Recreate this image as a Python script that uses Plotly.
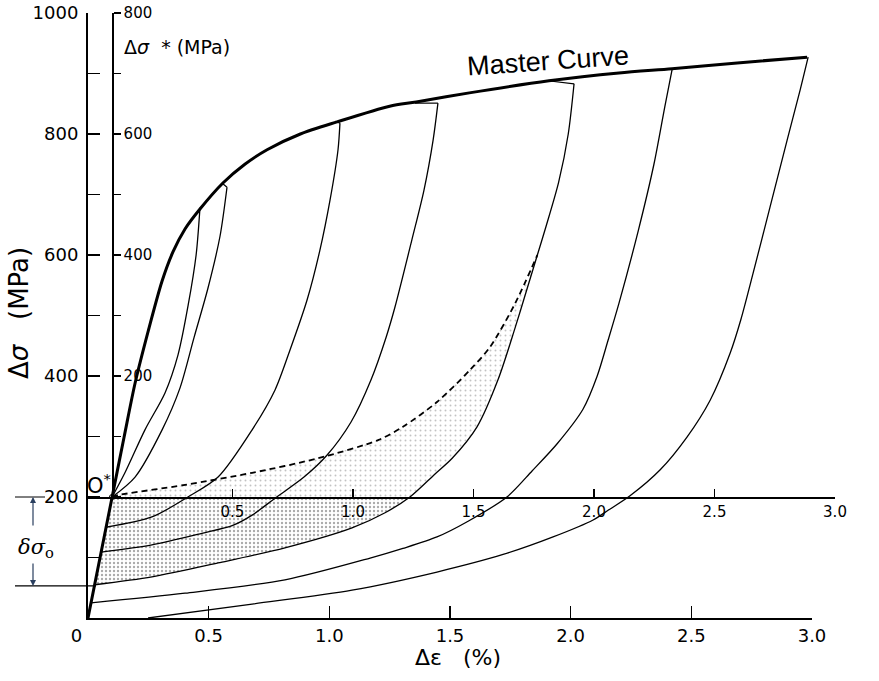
import plotly.graph_objects as go

# ---------------- data (Δε in %, Δσ in MPa) ----------------
master_eps = [0.0, 0.10, 0.15, 0.195, 0.25, 0.307, 0.352, 0.402, 0.464, 0.559, 0.65, 0.742, 0.88,
              1.032, 1.25, 1.36, 1.58, 1.91, 2.20, 2.42, 2.69, 2.98]
master_sig = [0, 200, 300, 388, 475, 557, 605, 643, 676, 719, 750, 774, 800,
              820, 846, 853, 868, 888, 901, 908, 917.5, 927]

a_eps = [0.464, 0.448, 0.415, 0.373, 0.319, 0.236, 0.153, 0.10]
a_sig = [678, 600, 517, 435, 372, 311, 240, 200]

b_eps = [0.576, 0.547, 0.497, 0.439, 0.381, 0.307, 0.195, 0.10]
b_sig = [712, 631, 545, 463, 380, 311, 233, 200]

c_eps = [1.044, 1.036, 1.003, 0.961, 0.908, 0.837, 0.775, 0.680, 0.539, 0.414, 0.265, 0.075]
c_sig = [818, 774, 691, 608, 526, 443, 377, 311, 233, 200, 167, 150]

d_eps = [1.450, 1.430, 1.392, 1.342, 1.272, 1.236, 1.172, 1.090, 0.99, 0.895, 0.775, 0.68, 0.60,
         0.472, 0.265, 0.055]
d_sig = [851, 790, 707, 625, 514, 465, 393, 324, 269, 233, 198, 170, 153, 140, 121, 109]

e_eps = [2.014, 1.99, 1.95, 1.90, 1.862, 1.82, 1.77, 1.70, 1.612, 1.509, 1.438, 1.334,
         1.231, 1.094, 0.816, 0.539, 0.265, 0.028]
e_sig = [883, 800, 720, 650, 600, 545, 480, 395, 316, 264, 238, 200, 174, 149, 116, 91, 68, 55]

f_eps = [2.420, 2.39, 2.345, 2.28, 2.20, 2.155, 2.11, 2.051, 1.944, 1.84, 1.736, 1.575, 1.446,
         1.305, 1.169, 0.816, 0.402, 0.0125]
f_sig = [906, 845, 750, 640, 520, 459, 400, 345, 288, 243, 200, 160, 134, 115, 99, 63, 41, 25]

g_eps = [2.984, 2.951, 2.897, 2.826, 2.756, 2.705, 2.661, 2.578, 2.482, 2.371, 2.246, 2.155, 2.093,
         1.927, 1.72, 1.446, 1.094, 0.680, 0.249]
g_sig = [927, 873, 790, 679, 570, 493, 438, 360, 299, 245, 202, 178, 162, 134, 105, 76, 46, 23, 0]

# short links from the master curve to the loop tips
hook_eps = [[0.555, 0.576], [1.024, 1.044], [1.355, 1.450], [1.906, 2.014]]
hook_sig = [[719, 712], [821, 818], [851, 851], [888, 883]]

dash_eps = [0.10, 0.124, 0.402, 0.680, 0.953, 1.202, 1.305, 1.446, 1.583, 1.666, 1.77, 1.862]
dash_sig = [200, 203, 220, 240, 264, 294, 316, 357, 410, 448, 520, 600]

x_ticks = [0, 0.5, 1.0, 1.5, 2.0, 2.5, 3.0]
x_text = ["0\u00a0\u00a0\u00a0\u00a0", "0.5", "1.0", "1.5", "2.0", "2.5", "3.0"]
y_ticks = [0, 100, 200, 300, 400, 500, 600, 700, 800, 900, 1000]
y_text = ["", "", "200", "", "400", "", "600", "", "800", "", "1000"]
ys_ticks = [0, 100, 200, 300, 400, 500, 600, 700, 800]
ys_text = ["", "", "200", "", "400", "", "600", "", "800"]
xs_ticks = [0.5, 1.0, 1.5, 2.0, 2.5, 3.0]
xs_text = ["0.5", "1.0", "1.5", "2.0", "2.5", "3.0"]

# ---------------- figure ----------------
W, H = 879, 681
ML, MR, MT, MB = 88, 39, 13, 63
PW = W - ML - MR  # 752
PH = H - MT - MB  # 605
FONT = "DejaVu Sans"

fig = go.Figure()

# stippled regions built from the dashed curve and curve E
up_x = dash_eps + [e for e, s in zip(e_eps, e_sig) if 200 <= s <= 600]
up_y = dash_sig + [s for e, s in zip(e_eps, e_sig) if 200 <= s <= 600]
lo_x = [dash_eps[0]] + [e for e, s in zip(e_eps, e_sig) if s <= 200]
lo_y = [dash_sig[0]] + [s for e, s in zip(e_eps, e_sig) if s <= 200]

fig.add_trace(go.Scatter(x=up_x, y=up_y, mode="lines", fill="toself", line=dict(width=0),
                         fillcolor="rgba(0,0,0,0)",
                         fillpattern=dict(shape=".", fgcolor="#888", bgcolor="white",
                                          size=5, solidity=0.12),
                         hoverinfo="skip"))
fig.add_trace(go.Scatter(x=lo_x, y=lo_y, mode="lines", fill="toself", line=dict(width=0),
                         fillcolor="rgba(0,0,0,0)",
                         fillpattern=dict(shape=".", fgcolor="#555", bgcolor="white",
                                          size=4, solidity=0.28),
                         hoverinfo="skip"))

for ex, sy in [(a_eps, a_sig), (b_eps, b_sig), (c_eps, c_sig), (d_eps, d_sig),
               (e_eps, e_sig), (f_eps, f_sig), (g_eps, g_sig)]:
    fig.add_trace(go.Scatter(x=ex, y=sy, mode="lines",
                             line=dict(color="black", width=1.3, shape="spline", smoothing=0.8)))

for ex, sy in zip(hook_eps, hook_sig):
    fig.add_trace(go.Scatter(x=ex, y=sy, mode="lines", line=dict(color="black", width=1.2)))

fig.add_trace(go.Scatter(x=dash_eps, y=dash_sig, mode="lines",
                         line=dict(color="black", width=1.8, dash="6px,4px", shape="spline",
                                   smoothing=0.8)))

fig.add_trace(go.Scatter(x=master_eps, y=master_sig, mode="lines",
                         line=dict(color="black", width=3, shape="spline", smoothing=0.8)))

# O* point on the shifted axes
fig.add_trace(go.Scatter(x=[0], y=[0], xaxis="x2", yaxis="y2", mode="markers",
                         marker=dict(symbol="circle-open", size=5, color="black",
                                     line=dict(width=1)),
                         cliponaxis=False))

axis_common = dict(showgrid=False, zeroline=False, showline=True, linecolor="black",
                   ticks="inside", tickcolor="black", fixedrange=True, automargin=False,
                   ticklabeloverflow="allow")

fig.update_layout(
    width=W, height=H, autosize=False,
    margin=dict(l=ML, r=MR, t=MT, b=MB, pad=0, autoexpand=False),
    paper_bgcolor="white", plot_bgcolor="rgba(0,0,0,0)",
    showlegend=False,
    font=dict(family=FONT, color="black", size=18),
    xaxis=dict(axis_common, domain=[0, 724 / PW], range=[0, 3.0], anchor="y",
               tickvals=x_ticks, ticktext=x_text, ticklen=12, tickwidth=1.5, linewidth=2,
               tickfont=dict(size=18)),
    yaxis=dict(axis_common, domain=[0, 1], range=[0, 1000], anchor="x",
               tickvals=y_ticks, ticktext=y_text, ticklen=12, tickwidth=1.5, linewidth=2,
               tickfont=dict(size=18), ticklabelstandoff=4),
    xaxis2=dict(axis_common, domain=[0, 747 / PW], range=[-0.0995, 3.0], anchor="free",
                position=0.2, side="bottom", tickvals=xs_ticks, ticktext=xs_text,
                ticklen=8, tickwidth=1.2, linewidth=1.6, tickfont=dict(size=15)),
    yaxis2=dict(axis_common, domain=[0.2, 1.0], range=[0, 800], anchor="free",
                position=24 / PW, side="right", ticks="outside", tickvals=ys_ticks,
                ticktext=ys_text, ticklen=7, tickwidth=1.2, linewidth=1.6,
                tickfont=dict(size=15)),
)

# δσo dimension lines
fig.add_shape(type="line", xref="paper", yref="y", x0=-73 / PW, x1=-43 / PW, y0=200, y1=200,
              line=dict(color="black", width=1))
fig.add_shape(type="line", xref="paper", yref="y", x0=-73 / PW, x1=8 / PW, y0=53, y1=53,
              line=dict(color="black", width=1.3))

ann = []
ann.append(dict(xref="paper", yref="y", x=-55 / PW, y=200, ax=0, ay=30, text="",
                showarrow=True, arrowhead=2, arrowsize=1, arrowwidth=1.2))
ann.append(dict(xref="paper", yref="y", x=-55 / PW, y=53, ax=0, ay=-24, text="",
                showarrow=True, arrowhead=2, arrowsize=1, arrowwidth=1.2))
ann.append(dict(xref="paper", yref="y", x=-52 / PW, y=116, text="<i>δσ</i><sub>o</sub>",
                showarrow=False, xanchor="center", font=dict(size=21, family="DejaVu Serif")))
ann.append(dict(xref="x", yref="y", x=0.045, y=222, text="O<sup>*</sup>", showarrow=False,
                xanchor="center", font=dict(size=21)))
ann.append(dict(xref="x", yref="y", x=1.905, y=921, text="Master Curve", textangle=-4,
                showarrow=False, xanchor="center",
                font=dict(size=27, family="Liberation Sans")))
ann.append(dict(xref="x", yref="y", x=0.369, y=944, text="Δ<i>σ</i> \u00a0* (MPa)",
                showarrow=False, xanchor="center", font=dict(size=19)))
ann.append(dict(xref="x", yref="y", x=3.096, y=245, text="Δε \u00a0* (%)",
                showarrow=False, xanchor="center", font=dict(size=18)))
ann.append(dict(xref="paper", yref="y", x=-69 / PW, y=504,
                text="Δ<i>σ</i>\u00a0\u00a0\u00a0(MPa)", textangle=-90, showarrow=False,
                font=dict(size=26), xanchor="center", yanchor="middle"))
ann.append(dict(xref="x", yref="paper", x=1.533, y=-39 / PH, text="Δε\u00a0\u00a0\u00a0(%)",
                showarrow=False, xanchor="center", yanchor="middle", font=dict(size=22)))
fig.update_layout(annotations=ann)

fig.write_html("out.html", config={"displayModeBar": False, "staticPlot": True},
               post_script="document.body.style.margin='0px';")
